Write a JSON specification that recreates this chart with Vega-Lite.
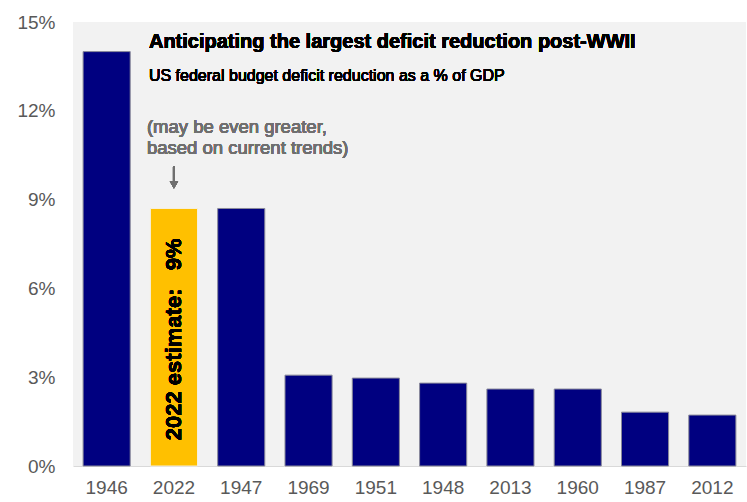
{
  "$schema": "https://vega.github.io/schema/vega-lite/v6.json",
  "width": 673,
  "height": 444,
  "autosize": "none",
  "padding": {"left": 73, "top": 22, "right": 1, "bottom": 36},
  "background": "#ffffff",
  "config": {
    "view": {"fill": "#f2f2f2", "stroke": null},
    "font": "Liberation Sans",
    "axis": {"grid": false, "ticks": false, "labelFont": "Liberation Sans", "labelColor": "#595959", "labelFontSize": 19, "title": null}
  },
  "data": {
    "values": [
      {"year": "1946", "value": 14.0, "kind": "actual"},
      {"year": "2022", "value": 8.7, "kind": "estimate"},
      {"year": "1947", "value": 8.7, "kind": "actual"},
      {"year": "1969", "value": 3.07, "kind": "actual"},
      {"year": "1951", "value": 2.97, "kind": "actual"},
      {"year": "1948", "value": 2.8, "kind": "actual"},
      {"year": "2013", "value": 2.6, "kind": "actual"},
      {"year": "1960", "value": 2.6, "kind": "actual"},
      {"year": "1987", "value": 1.82, "kind": "actual"},
      {"year": "2012", "value": 1.72, "kind": "actual"}
    ]
  },
  "encoding": {
    "x": {
      "field": "year", "type": "nominal", "sort": null,
      "scale": {"paddingInner": 0.3, "paddingOuter": 0.15},
      "axis": {"labelAngle": 0, "domain": true, "domainColor": "#d9d9d9", "domainWidth": 1, "labelPadding": 12}
    }
  },
  "layer": [
    {
      "mark": {"type": "bar", "strokeWidth": 1},
      "encoding": {
        "y": {
          "field": "value", "type": "quantitative",
          "scale": {"domain": [0, 15], "nice": false, "zero": true},
          "axis": {"domain": false, "values": [0, 3, 6, 9, 12, 15], "labelExpr": "datum.value + '%'", "labelPadding": 18}
        },
        "color": {
          "field": "kind", "type": "nominal",
          "scale": {"domain": ["actual", "estimate"], "range": ["#000080", "#ffc000"]},
          "legend": null
        },
        "stroke": {
          "condition": {"test": "datum.kind == 'estimate'", "value": "#f5f0e0"},
          "value": "#8a8a9a"
        }
      }
    },
    {
      "mark": {"type": "text", "angle": 270, "fontWeight": "bold", "fontSize": 22, "color": "#000000", "align": "center", "baseline": "middle", "text": "2022 estimate:\u00a0\u00a0\u00a09%"},
      "encoding": {"x": {"datum": "2022"}, "y": {"datum": 4.28, "type": "quantitative"}}
    },
    {
      "mark": {"type": "text", "fontWeight": "bold", "fontSize": 20, "color": "#000000", "align": "left", "baseline": "middle", "dx": -25, "text": "Anticipating the largest deficit reduction post-WWII"},
      "encoding": {"x": {"datum": "2022"}, "y": {"datum": 14.31, "type": "quantitative"}}
    },
    {
      "mark": {"type": "text", "fontSize": 16, "color": "#000000", "align": "left", "baseline": "middle", "dx": -25, "text": "US federal budget deficit reduction as a % of GDP"},
      "encoding": {"x": {"datum": "2022"}, "y": {"datum": 13.18, "type": "quantitative"}}
    },
    {
      "mark": {"type": "text", "fontSize": 18.5, "color": "#6f6f6f", "align": "left", "baseline": "middle", "dx": -27, "lineHeight": 21, "text": ["(may be even greater,", "based on current trends)"]},
      "encoding": {"x": {"datum": "2022"}, "y": {"datum": 11.44, "type": "quantitative"}}
    },
    {
      "mark": {"type": "rule", "color": "#6f6f6f", "strokeWidth": 2},
      "encoding": {"x": {"datum": "2022"}, "y": {"datum": 10.12, "type": "quantitative"}, "y2": {"datum": 9.62}}
    },
    {
      "mark": {"type": "point", "shape": "triangle-down", "filled": true, "color": "#6f6f6f", "size": 70, "opacity": 1},
      "encoding": {"x": {"datum": "2022"}, "y": {"datum": 9.5, "type": "quantitative"}}
    }
  ]
}
